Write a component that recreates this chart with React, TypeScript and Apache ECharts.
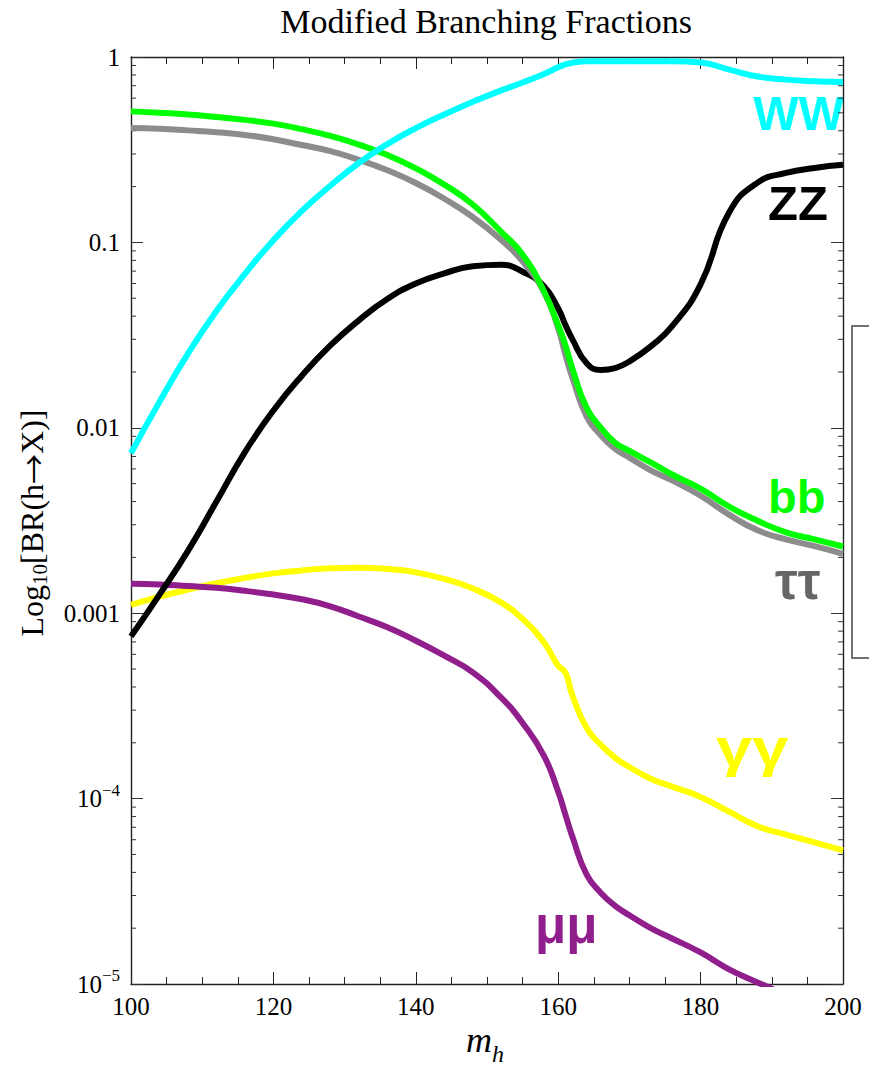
import React, { useEffect, useRef } from "react";
import * as echarts from "echarts";

// Higgs mass grid (GeV) shared by every decay channel
const massGrid = [100, 104, 108, 112, 116, 120, 124, 128, 132, 136, 140, 144, 148, 152, 155, 158, 160, 161, 162, 164, 166, 168, 170, 173, 176, 180, 184, 188, 192, 196, 200];

// Branching ratios per channel, one value per mass point
const brWW = [0.0073, 0.0138, 0.0251, 0.0427, 0.0676, 0.1028, 0.148, 0.202, 0.268, 0.339, 0.413, 0.49, 0.573, 0.661, 0.728, 0.81, 0.88, 0.912, 0.932, 0.948, 0.95, 0.95, 0.95, 0.95, 0.95, 0.935, 0.855, 0.785, 0.755, 0.74, 0.733];
const brZZ = [0.00075, 0.00126, 0.00217, 0.004, 0.0074, 0.0124, 0.0191, 0.0278, 0.038, 0.0495, 0.06, 0.068, 0.0743, 0.0757, 0.0695, 0.058, 0.044, 0.036, 0.03, 0.0223, 0.0205, 0.021, 0.0228, 0.0275, 0.0353, 0.0594, 0.145, 0.21, 0.237, 0.252, 0.262];
const brBB = [0.509, 0.5, 0.49, 0.475, 0.458, 0.437, 0.408, 0.375, 0.337, 0.296, 0.251, 0.205, 0.16, 0.114, 0.086, 0.0545, 0.0357, 0.028, 0.0208, 0.0128, 0.01, 0.0083, 0.0075, 0.0065, 0.0056, 0.0047, 0.00376, 0.00315, 0.00273, 0.0025, 0.00229];
const brTauTau = [0.414, 0.41, 0.402, 0.393, 0.38, 0.36, 0.335, 0.311, 0.279, 0.245, 0.209, 0.172, 0.137, 0.103, 0.079, 0.054, 0.0344, 0.0249, 0.0186, 0.0115, 0.0091, 0.0077, 0.0069, 0.0059, 0.0052, 0.0043, 0.0034, 0.0028, 0.0025, 0.0023, 0.00209];
const brGamGam = [0.00111, 0.00123, 0.00134, 0.00145, 0.00155, 0.00164, 0.0017, 0.00175, 0.00176, 0.00173, 0.00166, 0.00153, 0.00136, 0.00114, 0.00093, 0.000695, 0.00052, 0.00048, 0.00036, 0.00024, 0.000195, 0.000166, 0.000148, 0.000128, 0.000116, 0.000102, 0.000085, 0.000071, 0.000064, 0.000058, 0.0000526];
const brMuMu = [0.00144, 0.00143, 0.0014, 0.00137, 0.00132, 0.00126, 0.00119, 0.00109, 0.00096, 0.00084, 0.00071, 0.00059, 0.00048, 0.00035, 0.000256, 0.00017, 0.000109, 0.0000822, 0.0000622, 0.0000389, 0.000031, 0.0000264, 0.0000235, 0.00002, 0.0000176, 0.0000148, 0.000012, 0.0000102, 0.0000087, null, null];

// Axis ranges and labels
const massMin = 100;
const massMax = 200;
const massStep = 20;
const brMin = 1e-5;
const brMax = 1;
const minorFactors = [2, 3, 4, 5, 6, 7, 8, 9];
const minorDecades = [-5, -4, -3, -2, -1];

const serif = "'Liberation Serif', 'Times New Roman', serif";
const sans = "'Liberation Sans', Arial, Helvetica, sans-serif";

const toPairs = (vals: (number | null)[]) => massGrid.map((m, i) => [m, vals[i]]);

const minorTickData: number[][] = [];
minorDecades.forEach((d) => minorFactors.forEach((k) => minorTickData.push([massMin, k * Math.pow(10, d)])));

const frameLine = { show: true, lineStyle: { color: "#222", width: 1.4 } };

export default function App() {
  const ref = useRef<HTMLDivElement>(null);

  useEffect(() => {
    if (!ref.current) return;
    const chart = echarts.init(ref.current, undefined, { renderer: "svg" });

    const line = (name: string, vals: (number | null)[], color: string) => ({
      name,
      type: "line",
      data: toPairs(vals),
      showSymbol: false,
      smooth: 0.5,
      lineStyle: { color, width: 6 },
      itemStyle: { color },
      clip: true,
      silent: true,
    });

    const xAxisBase = {
      type: "value",
      min: massMin,
      max: massMax,
      interval: massStep,
      splitLine: { show: false },
      axisLine: frameLine,
      axisTick: { show: true, inside: true, length: 12, lineStyle: { color: "#222", width: 1 } },
      minorTick: { show: true, splitNumber: 4, length: 7, lineStyle: { color: "#222", width: 1 } },
    };

    const yAxisBase = {
      type: "log",
      logBase: 10,
      min: brMin,
      max: brMax,
      splitNumber: 5,
      splitLine: { show: false },
      axisLine: frameLine,
      axisTick: { show: true, inside: true, length: 12, lineStyle: { color: "#333", width: 1 } },
    };

    chart.setOption({
      animation: false,
      backgroundColor: "#fff",
      grid: { left: 131, right: 26, top: 57, bottom: 89, containLabel: false, outerBoundsMode: "none" },
      xAxis: [
        {
          ...xAxisBase,
          position: "bottom",
          axisLabel: { show: true, fontFamily: serif, fontSize: 25, color: "#000", margin: 10 },
        },
        { ...xAxisBase, position: "top", axisLabel: { show: false } },
      ],
      yAxis: [
        {
          ...yAxisBase,
          position: "left",
          axisLabel: {
            show: true,
            showMinLabel: true,
            showMaxLabel: true,
            margin: 11,
            fontFamily: serif,
            fontSize: 25,
            color: "#000",
            formatter: (v: number) => {
              const e = Math.round(Math.log10(v));
              if (e >= 0) return "1";
              if (e >= -3) return v.toFixed(-e);
              return "{b|10}{sup|\u2212" + -e + "}";
            },
            rich: {
              b: { fontFamily: serif, fontSize: 25, color: "#000", lineHeight: 34 },
              sup: { fontFamily: serif, fontSize: 17, color: "#000", lineHeight: 16, verticalAlign: "top" },
            },
          },
        },
        { ...yAxisBase, position: "right", axisLabel: { show: false } },
      ],
      series: [
        line("γγ", brGamGam, "#FFFF00"),
        line("μμ", brMuMu, "#911E8D"),
        line("ZZ", brZZ, "#000000"),
        line("ττ", brTauTau, "#8C8C8C"),
        line("bb", brBB, "#00FF00"),
        line("WW", brWW, "#00FFFF"),
        {
          // logarithmic minor ticks on the left and right frame edges
          type: "custom",
          silent: true,
          data: minorTickData,
          renderItem: (params: any, api: any) => {
            const y = api.coord([massMin, api.value(1)])[1];
            const cs = params.coordSys;
            const st = { stroke: "#333", lineWidth: 1 };
            return {
              type: "group",
              children: [
                { type: "line", shape: { x1: cs.x, y1: y, x2: cs.x + 5, y2: y }, style: st },
                { type: "line", shape: { x1: cs.x + cs.width - 5, y1: y, x2: cs.x + cs.width, y2: y }, style: st },
              ],
            };
          },
        },
      ],
      graphic: [
        {
          type: "text",
          x: 486,
          y: 21,
          style: { text: "Modified Branching Fractions", fontFamily: serif, fontSize: 34, fill: "#000", align: "center", verticalAlign: "middle" },
        },
        {
          type: "text",
          x: 32,
          y: 523,
          rotation: Math.PI / 2,
          style: {
            text: "{a|Log}{s|10}{a|[BR(h}{r|\u2192}{a|X)]}",
            align: "center",
            verticalAlign: "middle",
            rich: {
              a: { fontFamily: serif, fontSize: 32, color: "#000", lineHeight: 36 },
              r: { fontFamily: "'Noto Sans CJK JP', 'DejaVu Sans', sans-serif", fontSize: 30, color: "#000", lineHeight: 36 },
              s: { fontFamily: serif, fontSize: 21, color: "#000", lineHeight: 20, verticalAlign: "bottom" },
            },
          },
        },
        {
          type: "text",
          x: 466,
          y: 1040,
          style: { text: "m", fontFamily: serif, fontStyle: "italic", fontSize: 36, fill: "#000", align: "left", verticalAlign: "middle" },
        },
        {
          type: "text",
          x: 492,
          y: 1054,
          style: { text: "h", fontFamily: serif, fontStyle: "italic", fontSize: 24, fill: "#000", align: "left", verticalAlign: "middle" },
        },
        { type: "text", x: 753, y: 113, style: { text: "WW", fontFamily: sans, fontWeight: "bold", fontSize: 48, fill: "#00FFFF", align: "left", verticalAlign: "middle" } },
        { type: "text", x: 768, y: 203, style: { text: "ZZ", fontFamily: sans, fontWeight: "bold", fontSize: 49, fill: "#000", align: "left", verticalAlign: "middle" } },
        { type: "text", x: 768, y: 496, style: { text: "bb", fontFamily: sans, fontWeight: "bold", fontSize: 47, fill: "#00FF00", align: "left", verticalAlign: "middle" } },
        { type: "text", x: 775, y: 581, style: { text: "ττ", fontFamily: sans, fontWeight: "bold", fontSize: 51, fill: "#666666", align: "left", verticalAlign: "middle" } },
        { type: "text", x: 716, y: 748, scaleX: 1.25, style: { text: "γγ", fontFamily: sans, fontWeight: "bold", fontSize: 52, fill: "#FFFF00", align: "left", verticalAlign: "middle" } },
        { type: "text", x: 535, y: 925, style: { text: "μμ", fontFamily: sans, fontWeight: "bold", fontSize: 51, fill: "#911E8D", align: "left", verticalAlign: "middle" } },
        {
          type: "rect",
          shape: { x: 852, y: 326, width: 40, height: 332 },
          style: { fill: "none", stroke: "#444", lineWidth: 1.5 },
        },
      ],
    });

    return () => chart.dispose();
  }, []);

  return <div ref={ref} style={{ position: "absolute", left: 0, top: 0, width: 869, height: 1073 }} />;
}
